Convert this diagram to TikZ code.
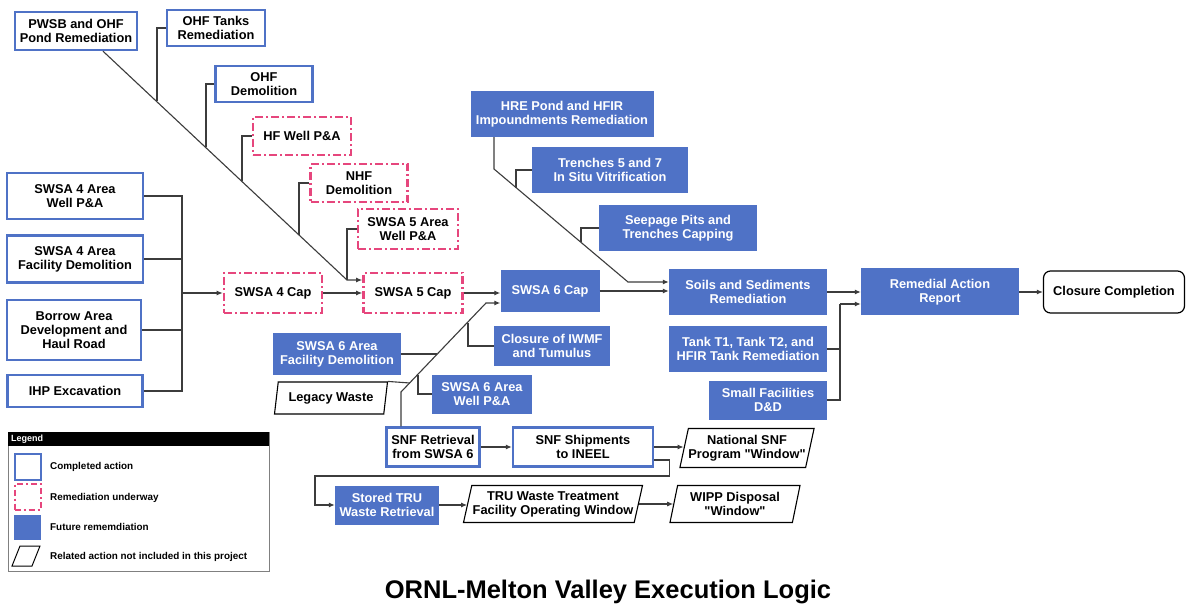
\documentclass[tikz,border=0pt]{standalone}
\usepackage{fontspec}
\setmainfont{Liberation Sans}[Ligatures=TeXOff]
\usetikzlibrary{arrows.meta,shapes.geometric,calc}
\definecolor{bluec}{RGB}{79,114,198}
\definecolor{pinkc}{RGB}{230,70,125}
\definecolor{linec}{RGB}{60,60,60}
\begin{document}
\begin{tikzpicture}[x=1pt,y=-1pt,
 box/.style={rectangle, inner sep=0pt, align=center, font=\fontsize{12.8}{14}\selectfont\bfseries},
 done/.style={box, draw=bluec, line width=2.4pt, fill=white},
 prog/.style={box, draw=pinkc, line width=2.6pt, dash pattern=on 8pt off 3pt on 2pt off 3pt, fill=white},
 fut/.style={box, fill=bluec, text=white},
 para/.style={box, trapezium, trapezium left angle=72, trapezium right angle=108, trapezium stretches body, draw=black, line width=1.1pt, fill=white},
 endbox/.style={box, draw=black, line width=1.2pt, rounded corners=7pt, fill=white},
 conn/.style={draw=linec, line width=1.1pt},
 arr/.style={conn, -{Latex[length=6pt,width=5pt]}},
 sz/.style 2 args={minimum width=#1pt, minimum height=#2pt},
 legtext/.style={anchor=west, inner sep=0pt, font=\fontsize{9.9}{11}\selectfont\bfseries}
]
\useasboundingbox (0,0) rectangle (1187,604);
\fill[white] (0,0) rectangle (1187,604);

% ---- nodes ----
\node[done, sz={122}{38}] (pwsb) at (76,31) {PWSB and OHF\\Pond Remediation};
\node[done, sz={98}{36}] (ohft) at (216,28) {OHF Tanks\\Remediation};
\node[done, sz={97}{36}] (ohfd) at (264,84) {OHF\\Demolition};
\node[prog, sz={98}{38}] (hfwell) at (302,136) {HF Well P\&A};
\node[prog, sz={97}{38}] (nhf) at (359,183) {NHF\\Demolition};
\node[prog, sz={100}{40}] (swsa5w) at (408,229) {SWSA 5 Area\\Well P\&A};
\node[prog, sz={98}{40}] (swsa4cap) at (273,293) {SWSA 4 Cap};
\node[prog, sz={99}{40}] (swsa5cap) at (413,293) {SWSA 5 Cap};
\node[fut, sz={99}{42}] (swsa6cap) at (550,291) {SWSA 6 Cap};
\node[fut, sz={183}{46}] (hre) at (562,114) {HRE Pond and HFIR\\Impoundments Remediation};
\node[fut, sz={156}{46}] (trench) at (610,170) {Trenches 5 and 7\\In Situ Vitrification};
\node[fut, sz={158}{46}] (seep) at (678,228) {Seepage Pits and\\Trenches Capping};
\node[fut, sz={158}{46}] (soils) at (748,292) {Soils and Sediments\\Remediation};
\node[fut, sz={158}{47}] (rar) at (940,292) {Remedial Action\\Report};
\node[endbox, sz={141}{42}] (closure) at (1114,292) {Closure Completion};
\node[fut, sz={158}{46}] (tank) at (748,349) {Tank T1, Tank T2, and\\HFIR Tank Remediation};
\node[fut, sz={118}{39}] (small) at (768,400) {Small Facilities\\D\&D};
\node[done, sz={136}{46}] (swsa4w) at (75,196) {SWSA 4 Area\\Well P\&A};
\node[done, sz={136}{47}] (swsa4f) at (75,259) {SWSA 4 Area\\Facility Demolition};
\node[done, sz={134}{60}] (borrow) at (74,330) {Borrow Area\\Development and\\Haul Road};
\node[done, sz={135}{32}] (ihp) at (75,391) {IHP Excavation};
\node[fut, sz={128}{41}] (swsa6f) at (337,354) {SWSA 6 Area\\Facility Demolition};
\node[para, sz={113}{32}] (legacy) at (331,398) {Legacy Waste};
\node[fut, sz={116}{39}] (iwmf) at (552,346) {Closure of IWMF\\and Tumulus};
\node[fut, sz={100}{39}] (swsa6w) at (482,394) {SWSA 6 Area\\Well P\&A};
\node[done, sz={93}{39}] (snfr) at (433,447) {SNF Retrieval\\from SWSA 6};
\node[done, sz={140}{39}] (snfs) at (583,447) {SNF Shipments\\to INEEL};
\node[para, sz={133}{39}] (natsnf) at (747,448) {National SNF\\Program "Window"};
\node[fut, sz={104}{39}] (tru) at (387,505) {Stored TRU\\Waste Retrieval};
\node[para, sz={179}{37}] (truw) at (553,504) {TRU Waste Treatment\\Facility Operating Window};
\node[para, sz={130}{37}] (wipp) at (735,504) {WIPP Disposal\\"Window"};

% ---- junction coordinates ----
\coordinate (d0) at (103,50);
\coordinate (d1) at (347,280);
\coordinate (j1) at (157,101);
\coordinate (j2) at (206,147);
\coordinate (j3) at (242,181);
\coordinate (j4) at (299,235);
\coordinate (h0) at (494,169);
\coordinate (h1) at (628,282);
\coordinate (h2) at (516,188);
\coordinate (h3) at (581,242);
\coordinate (lj) at (182,293);
\coordinate (rj) at (840,304);
\coordinate (s0) at (401,392);
\coordinate (s1) at (486,303);
\coordinate (sf) at (437,354);
\coordinate (sl) at (410,383);
\coordinate (sw) at (418,375);
\coordinate (si) at (468,323);
\coordinate (c1) at (315,476);

% ---- connectors ----
\draw[arr] (pwsb.south -| d0) -- (d1) -- (d1 -| swsa5cap.west);
\draw[conn] (ohft.west) -| (j1);
\draw[conn] (ohfd.west) -| (j2);
\draw[conn] (hfwell.west) -| (j3);
\draw[conn] (nhf.west) -| (j4);
\draw[conn] (swsa5w.west) -| (d1);

\draw[conn] (swsa4w.east) -| (lj);
\draw[conn] (swsa4f.east) -| (lj);
\draw[conn] (borrow.east) -| (lj);
\draw[conn] (ihp.east) -| (lj);
\draw[arr] (lj) -- (swsa4cap.west);
\draw[arr] (swsa4cap.east) -- (swsa5cap.west);
\draw[arr] (swsa5cap.east) -- (swsa5cap.east -| swsa6cap.west);

\draw[arr] (hre.south -| h0) -- (h0) -- (h1) -- (h1 -| soils.west);
\draw[conn] (trench.west) -| (h2);
\draw[conn] (seep.west) -| (h3);
\draw[arr] (swsa6cap.east) -- (swsa6cap.east -| soils.west);

\draw[arr] (soils.east) -- (soils.east -| rar.west);
\draw[conn] (tank.east) -| (rj);
\draw[conn] (small.east) -| (rj);
\draw[arr] (rj) -- (rj -| rar.west);
\draw[arr] (rar.east) -- (rar.east -| closure.west);

\draw[arr] (snfr.north -| s0) -- (s0) -- (s1) -- (s1 -| swsa6cap.west);
\draw[conn] (swsa6f.east -| sf) -- (swsa6f.east);
\draw[conn] (legacy.top right corner) -- (sl);
\draw[conn] (swsa6w.west) -| (sw);
\draw[conn] (iwmf.west) -| (si);

\draw[arr] (snfr.east) -- (snfr.east -| snfs.west);
\draw[arr] (snfs.east) -- (snfs.east -| natsnf.west);
\draw[arr] ($(snfs.east)+(0,13)$) -- ++(15,0) |- (c1) |- (tru.west);
\draw[arr] (tru.east) -- (tru.east -| truw.west);
\draw[arr] (truw.east) -- (truw.east -| wipp.west);

% ---- legend ----
\draw[draw=gray, line width=0.8pt] (8,432) rectangle (269,571);
\fill[black] (8,432) rectangle (269,446);
\node[legtext, text=white, font=\fontsize{9}{10}\selectfont\bfseries] (legtitle) at (11,439.5) {Legend};
\node[done, line width=2pt, sz={26}{26}] (lg1) at (27.5,466.5) {};
\node[prog, line width=2pt, dash pattern=on 6pt off 3pt on 2pt off 3pt, sz={26}{26}] (lg2) at (27.5,496.5) {};
\node[fut, sz={27}{25}] (lg3) at (27.5,527.5) {};
\draw[draw=black, line width=1pt] (12,566) -- (20,546) -- (40,546) -- (32,566) -- cycle;
\node[legtext] (lt1) at (50,467) {Completed action};
\node[legtext] (lt2) at (50,498) {Remediation underway};
\node[legtext] (lt3) at (50,527) {Future rememdiation};
\node[legtext] (lt4) at (50,557) {Related action not included in this project};

% ---- title ----
\node[anchor=base, inner sep=0pt, font=\fontsize{25.5}{28}\selectfont\bfseries] (title) at (608,598) {ORNL-Melton Valley Execution Logic};
\end{tikzpicture}
\end{document}
